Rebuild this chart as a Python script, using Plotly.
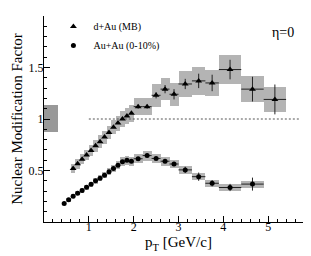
import plotly.graph_objects as go

# ---- data ----
dau_pt = [0.65, 0.75, 0.85, 0.95, 1.05, 1.15, 1.25, 1.35, 1.45, 1.55, 1.65, 1.75, 1.85, 1.95,
          2.1, 2.3, 2.5, 2.7, 2.9, 3.15, 3.45, 3.75, 4.15, 4.65, 5.15]
dau_r = [0.52, 0.565, 0.61, 0.65, 0.695, 0.74, 0.78, 0.825, 0.87, 0.92, 0.96, 1.00, 1.03, 1.055,
         1.12, 1.12, 1.23, 1.29, 1.24, 1.34, 1.37, 1.35, 1.48, 1.29, 1.19]
dau_stat = [0]*14 + [0.02, 0.02, 0.03, 0.04, 0.05, 0.05, 0.07, 0.08, 0.095, 0.12, 0.145]
dau_binhw = [0]*14 + [0.1, 0.1, 0.1, 0.1, 0.1, 0.15, 0.15, 0.15, 0.25, 0.25, 0.25]
dau_boxhw = [0.05]*14 + [0.1, 0.1, 0.1, 0.1, 0.1, 0.15, 0.15, 0.15, 0.25, 0.25, 0.25]
dau_sys = [0.045, 0.048, 0.05, 0.052, 0.055, 0.058, 0.06, 0.063, 0.066, 0.07, 0.072, 0.075, 0.077, 0.08,
           0.08, 0.08, 0.11, 0.11, 0.11, 0.13, 0.135, 0.13, 0.14, 0.125, 0.12]

aa_pt = [0.45, 0.55, 0.65, 0.75, 0.85, 0.95, 1.05, 1.15, 1.25, 1.35, 1.45, 1.55, 1.65, 1.75, 1.85, 1.95,
         2.1, 2.3, 2.5, 2.7, 2.9, 3.15, 3.45, 3.75, 4.15, 4.65]
aa_r = [0.18, 0.215, 0.25, 0.278, 0.307, 0.338, 0.367, 0.40, 0.425, 0.455, 0.487, 0.52, 0.55, 0.585, 0.60, 0.59,
        0.614, 0.645, 0.617, 0.59, 0.563, 0.506, 0.44, 0.376, 0.335, 0.368]
aa_stat = [0]*16 + [0.01, 0.015, 0.015, 0.02, 0.02, 0.03, 0.04, 0.03, 0.035, 0.063]
aa_binhw = [0]*16 + [0.1, 0.1, 0.1, 0.1, 0.1, 0.15, 0.15, 0.15, 0.25, 0.25]
aa_boxhw = [0.05]*16 + [0.1, 0.1, 0.1, 0.1, 0.1, 0.15, 0.15, 0.15, 0.25, 0.25]
aa_sys = [0.013, 0.016, 0.018, 0.02, 0.022, 0.024, 0.026, 0.028, 0.03, 0.032, 0.035, 0.037, 0.04, 0.042, 0.044, 0.044,
          0.045, 0.048, 0.046, 0.044, 0.042, 0.038, 0.035, 0.033, 0.033, 0.033]

norm_x = [0.16]
norm_lo = [0.87]
norm_hi = [1.14]
norm_w = [0.3]

ref_x = [1.0, 5.7]
ref_y = [1.0, 1.0]

xticks = [1, 2, 3, 4, 5]
yticks = [0.5, 1, 1.5]

SERIF = "Liberation Serif"
BOX = "#b4b4b4"

fig = go.Figure()

# systematic boxes
fig.add_trace(go.Bar(x=dau_pt, y=[2*s for s in dau_sys], base=[r - s for r, s in zip(dau_r, dau_sys)],
                     width=[2*w for w in dau_boxhw], marker=dict(color=BOX, line=dict(width=0)),
                     showlegend=False, hoverinfo="skip"))
fig.add_trace(go.Bar(x=aa_pt, y=[2*s for s in aa_sys], base=[r - s for r, s in zip(aa_r, aa_sys)],
                     width=[2*w for w in aa_boxhw], marker=dict(color=BOX, line=dict(width=0)),
                     showlegend=False, hoverinfo="skip"))
# normalization box
fig.add_trace(go.Bar(x=norm_x, y=[h - l for h, l in zip(norm_hi, norm_lo)], base=norm_lo, width=norm_w,
                     marker=dict(color="#999999", line=dict(width=0)), showlegend=False, hoverinfo="skip"))

# reference line
fig.add_trace(go.Scatter(x=ref_x, y=ref_y, mode="lines",
                         line=dict(color="#555555", width=1, dash="2px,2px"),
                         showlegend=False, hoverinfo="skip"))

fig.add_trace(go.Scatter(x=dau_pt, y=dau_r, mode="markers", name="d+Au (MB)",
                         marker=dict(symbol="triangle-up", size=6, color="black"),
                         error_y=dict(type="data", array=dau_stat, color="#222222", thickness=1, width=0),
                         error_x=dict(type="data", array=dau_binhw, color="#222222", thickness=1, width=0)))
fig.add_trace(go.Scatter(x=aa_pt, y=aa_r, mode="markers", name="Au+Au (0-10%)",
                         marker=dict(symbol="circle", size=5, color="black"),
                         error_y=dict(type="data", array=aa_stat, color="#222222", thickness=1, width=0),
                         error_x=dict(type="data", array=aa_binhw, color="#222222", thickness=1, width=0)))

fig.update_layout(
    width=311, height=256,
    margin=dict(l=36, r=6, t=4, b=42),
    paper_bgcolor="white", plot_bgcolor="white",
    barmode="overlay", bargap=0,
    font=dict(family=SERIF, size=12, color="black"),
    legend=dict(x=0.035, y=1.02, xanchor="left", yanchor="top", bgcolor="rgba(0,0,0,0)",
                font=dict(family=SERIF, size=10), itemwidth=30, tracegroupgap=0),
    xaxis=dict(range=[0, 6], tickvals=xticks, ticks="inside", ticklen=6, tickcolor="black",
               showline=True, linecolor="black", linewidth=1, showgrid=False, zeroline=False,
               tickfont=dict(family=SERIF, size=12), automargin=False, ticklabelstandoff=-6,
               minor=dict(tickmode="linear", tick0=0, dtick=0.2, ticks="inside", ticklen=3,
                          tickcolor="black", showgrid=False),
               title=dict(text="p<sub>T</sub> [GeV/c]", font=dict(family=SERIF, size=15), standoff=2)),
    yaxis=dict(range=[0, 2.0], tickvals=yticks, ticks="inside", ticklen=6, tickcolor="black",
               showline=True, linecolor="black", linewidth=1, showgrid=False, zeroline=False,
               tickfont=dict(family=SERIF, size=12), automargin=False, ticklabelstandoff=-3,
               minor=dict(tickmode="linear", tick0=0, dtick=0.1, ticks="inside", ticklen=3,
                          tickcolor="black", showgrid=False),
               title=dict(text="Nuclear Modification Factor", font=dict(family=SERIF, size=15), standoff=2)),
    shapes=[dict(type="line", xref="paper", yref="paper", x0=1, x1=1, y0=0, y1=1,
                 line=dict(color="black", width=1))],
    annotations=[dict(text="η=0", xref="paper", yref="paper", x=0.89, y=0.92,
                      xanchor="center", yanchor="middle",
                      showarrow=False, font=dict(family=SERIF, size=14))],
)

fig.write_html("out.html")
